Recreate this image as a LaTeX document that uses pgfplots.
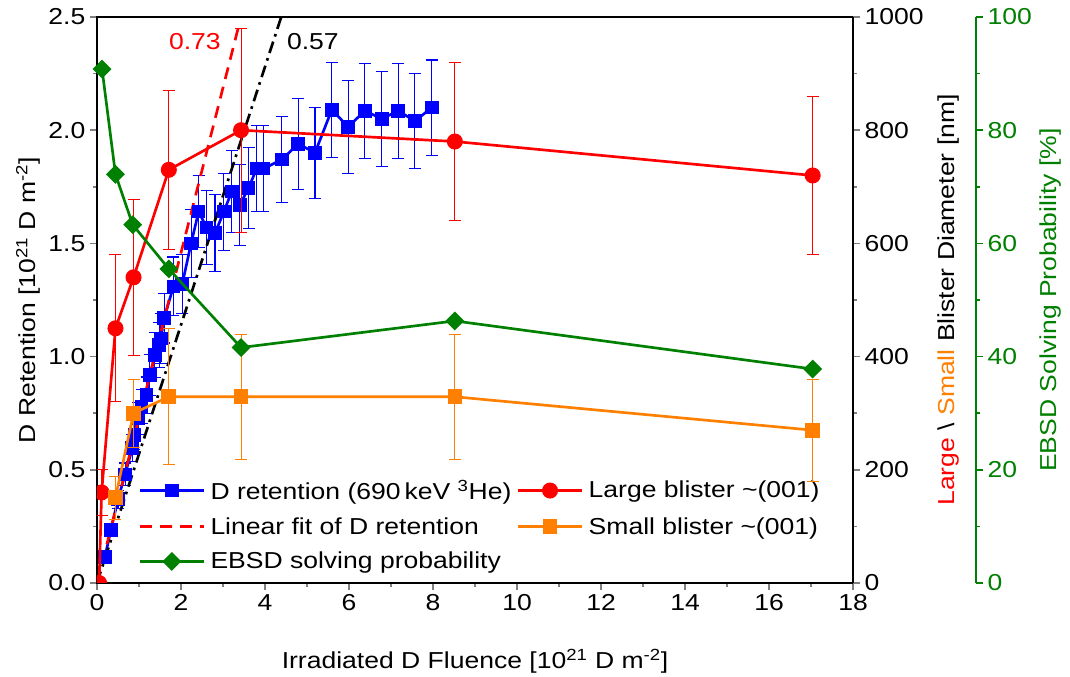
\documentclass[border=0pt]{standalone}
\usepackage{pgfplots}
\pgfplotsset{compat=1.18}
\usepackage{pgfplotstable}
\usepackage{fontspec}
\setmainfont[FakeStretch=1.15]{Liberation Sans}
\definecolor{myblue}{RGB}{0,0,255}
\definecolor{myred}{RGB}{255,0,0}
\definecolor{myorange}{RGB}{255,128,0}
\definecolor{mygreen}{RGB}{0,128,0}

\pgfplotstableread{
x y e
0.19 0.116 0.02
0.33 0.234 0.03
0.50 0.37 0.04
0.67 0.48 0.05
0.84 0.595 0.06
0.89 0.654 0.065
0.98 0.727 0.07
1.06 0.779 0.075
1.18 0.83 0.08
1.26 0.919 0.09
1.38 1.007 0.10
1.48 1.05 0.10
1.52 1.08 0.11
1.60 1.17 0.11
1.82 1.31 0.13
2.03 1.32 0.13
2.24 1.50 0.15
2.42 1.64 0.16
2.61 1.57 0.165
2.81 1.545 0.17
3.02 1.64 0.17
3.21 1.73 0.18
3.40 1.67 0.18
3.61 1.745 0.18
3.80 1.83 0.19
3.96 1.83 0.19
4.40 1.87 0.19
4.79 1.94 0.20
5.19 1.90 0.20
5.59 2.09 0.21
5.98 2.015 0.205
6.38 2.086 0.21
6.78 2.05 0.21
7.17 2.086 0.21
7.57 2.04 0.21
7.97 2.10 0.21
}\retention

\pgfplotstableread{
x y e
0.05 0 0
0.11 160 40
0.44 450 130
0.87 540 138
1.71 730 140
3.43 800 180
8.52 780 140
17.04 720 140
}\large

\pgfplotstableread{
x y e
0.44 151 38
0.87 300 60
1.71 329 120
3.43 329 110
8.52 329 110
17.04 270 90
}\small

\pgfplotstableread{
x y
0.12 90.8
0.44 72.2
0.85 63.3
1.71 55.5
3.43 41.6
8.52 46.3
17.04 37.8
}\ebsd

\pgfplotsset{
  /pgf/number format/assume math mode=true,
  /pgf/number format/1000 sep={},
  base/.style={
    at={(0pt,0pt)}, anchor=south west,
    scale only axis, width=567pt, height=424.5pt,
    axis line style={line width=1.2pt},
    tick style={line width=1.2pt},
    major tick length=5.25pt, minor tick length=3pt,
    tick align=outside,
  },
}

\begin{document}
\begin{tikzpicture}[font=\fontsize{17.3}{20.8}\selectfont]
\path[use as bounding box] (-72.75pt,-70.5pt) rectangle (729.75pt,437.25pt);

% main axis
\begin{axis}[base,
  xmin=0, xmax=18, ymin=0, ymax=2.5,
  xtick={0,2,...,18}, minor x tick num=1,
  ytick={0,0.5,...,2.5}, minor y tick num=1,
  xtick pos=bottom, ytick pos=left,
  yticklabel style={/pgf/number format/.cd, fixed, fixed zerofill, precision=1},
  xlabel={Irradiated D Fluence [10\textsuperscript{21} D m\textsuperscript{-2}]},
  ylabel={D Retention [10\textsuperscript{21} D m\textsuperscript{-2}]},
  xlabel style={at={(axis description cs:0.5,-0.138)}, anchor=center},
  ylabel style={at={(axis description cs:-0.091,0.5)}, anchor=center},
  legend columns=2,
  legend cell align=left,
  legend image code/.code={\draw[mark repeat=2,mark phase=2,#1] plot coordinates {(0pt,0pt) (24pt,0pt) (48pt,0pt)};},
  legend style={draw=none, fill=none, at={(axis cs:0.95,0.475)}, anchor=north west,
    row sep=8pt, column sep=2pt, inner sep=1pt},
]
\addplot[myblue, line width=2pt, mark=square*, mark size=4.1pt,
  error bars/.cd, y dir=both, y explicit,
  error bar style={line width=0.8pt, myblue},
  error mark options={rotate=90, mark size=4.5pt, line width=0.8pt, myblue}]
  table[x=x, y=y, y error=e] {\retention};
\addlegendentry{D retention (690\,keV \textsuperscript{3}He)}
\addlegendimage{myred, line width=2pt, mark=*, mark size=5pt}
\addlegendentry{Large blister \textasciitilde(001)}
\addplot[myred, line width=2pt, dash pattern=on 9pt off 6pt] coordinates {(0,0) (3.36,2.45)};
\addlegendentry{Linear fit of D retention}
\addlegendimage{myorange, line width=2pt, mark=square*, mark size=4.5pt}
\addlegendentry{Small blister \textasciitilde(001)}
\addlegendimage{mygreen, line width=2pt, mark=square*, mark size=4pt, mark options={rotate=45}}
\addlegendentry{EBSD solving probability}
\addplot[black, line width=2pt, dash pattern=on 9pt off 4pt on 2pt off 4pt, forget plot] coordinates {(0,0) (4.386,2.5)};
\node[myred] at (axis cs:2.33,2.39) {0.73};
\node[black] at (axis cs:5.14,2.39) {0.57};
\end{axis}

% right black axis: blister diameters
\begin{axis}[base,
  xmin=0, xmax=18, ymin=0, ymax=1000,
  axis x line=none, axis y line*=right,
  ytick={0,200,...,1000}, minor y tick num=1,
  clip marker paths=true,
  ylabel={\textcolor{myred}{Large} \textbackslash{} \textcolor{myorange}{Small} Blister Diameter [nm]},
  ylabel style={at={(axis description cs:1.1257,0.5)}, anchor=center},
]
\addplot[myred, line width=2pt, mark=*, mark size=5pt,
  error bars/.cd, y dir=both, y explicit,
  error bar style={line width=0.6pt, myred},
  error mark options={rotate=90, mark size=4.5pt, line width=0.6pt, myred}]
  table[x=x, y=y, y error=e] {\large};
\addplot[myorange, line width=2pt, mark=square*, mark size=4.5pt,
  error bars/.cd, y dir=both, y explicit,
  error bar style={line width=0.6pt, myorange},
  error mark options={rotate=90, mark size=4.5pt, line width=0.6pt, myorange}]
  table[x=x, y=y, y error=e] {\small};
\end{axis}

% hidden axis for EBSD data
\begin{axis}[base,
  xmin=0, xmax=18, ymin=0, ymax=100, hide axis]
\addplot[mygreen, line width=2pt, mark=square*, mark size=4pt, mark options={rotate=45}]
  table[x=x, y=y] {\ebsd};
\end{axis}

% green axis
\begin{axis}[base, at={(92.25pt,0pt)},
  xmin=0, xmax=1, ymin=0, ymax=100,
  axis x line=none, axis y line*=right,
  axis line style={mygreen},
  ytick={0,20,...,100}, minor y tick num=1,
  tick style={mygreen},
  yticklabel style={text=mygreen},
  ylabel={EBSD Solving Probability [\%]},
  ylabel style={text=mygreen, at={(axis description cs:1.098,0.5)}, anchor=center},
]
\end{axis}
\end{tikzpicture}
\end{document}
